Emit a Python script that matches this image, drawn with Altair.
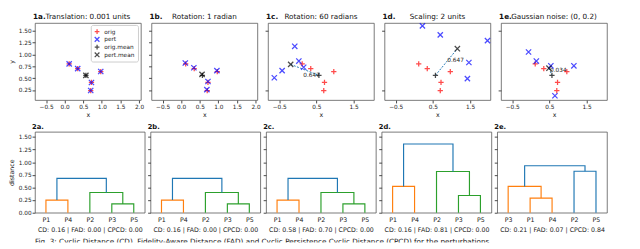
import altair as alt
import pandas as pd

FONT = "DejaVu Sans"

# ---------------- top row data ----------------
panels_top = ["a", "b", "c", "d", "e"]
titles_top = ["Translation: 0.001 units", "Rotation: 1 radian", "Rotation: 60 radians",
              "Scaling: 2 units", "Gaussian noise: (0, 0.2)"]

orig_x = [0.12, 0.35, 0.97, 0.72, 0.70]
orig_y = [0.80, 0.70, 0.64, 0.41, 0.24]

pert_x = {
    "a": [0.12, 0.35, 0.97, 0.72, 0.70],
    "b": [0.11, 0.34, 0.96, 0.72, 0.69],
    "c": [-0.08, 0.03, 0.16, -0.42, -0.63],
    "d": [0.22, 0.70, 1.97, 1.47, 1.43],
    "e": [-0.06, 0.15, 0.54, 1.16, 0.65],
}
pert_y = {
    "a": [0.80, 0.70, 0.64, 0.41, 0.24],
    "b": [0.82, 0.72, 0.66, 0.43, 0.26],
    "c": [1.17, 0.86, 0.73, 0.66, 0.51],
    "d": [1.60, 1.41, 1.29, 0.83, 0.49],
    "e": [1.05, 0.86, 0.76, 0.76, 0.13],
}
orig_mean = (0.57, 0.56)
pert_mean = {
    "a": (0.57, 0.56),
    "b": (0.56, 0.58),
    "c": (-0.19, 0.79),
    "d": (1.16, 1.12),
    "e": (0.49, 0.71),
}
dist_label = {"c": "0.647", "d": "0.647", "e": "0.034"}
dist_label_pos = {"c": (0.15, 0.53), "d": (0.89, 0.83), "e": (0.52, 0.63)}

series = ["orig", "pert", "orig.mean", "pert.mean"]
PLUS = "M-1,0L1,0M0,-1L0,1"
CROSS = "M-1,-1L1,1M-1,1L1,-1"

# ---------------- bottom row data ----------------
leaf_order = {
    "a": ["P1", "P4", "P2", "P3", "P5"],
    "b": ["P1", "P4", "P2", "P3", "P5"],
    "c": ["P1", "P4", "P2", "P3", "P5"],
    "d": ["P1", "P4", "P2", "P3", "P5"],
    "e": ["P3", "P1", "P4", "P2", "P5"],
}
# links: (x_left, y_left, x_right, y_right, height, colour)
ORANGE, GREEN, BLUE = "#ff7f0e", "#2ca02c", "#1f77b4"
links = {
    "a": [(5, 0, 15, 0, 0.25, ORANGE), (35, 0, 45, 0, 0.175, GREEN),
          (25, 0, 40, 0.175, 0.40, GREEN), (10, 0.25, 32.5, 0.40, 0.68, BLUE)],
    "b": [(5, 0, 15, 0, 0.25, ORANGE), (35, 0, 45, 0, 0.175, GREEN),
          (25, 0, 40, 0.175, 0.40, GREEN), (10, 0.25, 32.5, 0.40, 0.68, BLUE)],
    "c": [(5, 0, 15, 0, 0.25, ORANGE), (35, 0, 45, 0, 0.175, GREEN),
          (25, 0, 40, 0.175, 0.40, GREEN), (10, 0.25, 32.5, 0.40, 0.68, BLUE)],
    "d": [(5, 0, 15, 0, 0.52, ORANGE), (35, 0, 45, 0, 0.34, GREEN),
          (25, 0, 40, 0.34, 0.815, GREEN), (10, 0.52, 32.5, 0.815, 1.36, BLUE)],
    "e": [(15, 0, 25, 0, 0.29, ORANGE), (5, 0, 20, 0.29, 0.52, ORANGE),
          (35, 0, 45, 0, 0.82, BLUE), (12.5, 0.52, 40, 0.82, 0.93, BLUE)],
}
captions = {
    "a": "CD: 0.16 | FAD: 0.00 | CPCD: 0.00",
    "b": "CD: 0.16 | FAD: 0.00 | CPCD: 0.00",
    "c": "CD: 0.58 | FAD: 0.70 | CPCD: 0.00",
    "d": "CD: 0.16 | FAD: 0.81 | CPCD: 0.00",
    "e": "CD: 0.21 | FAD: 0.07 | CPCD: 0.84",
}
fig_caption = ("Fig. 3: Cyclic Distance (CD), Fidelity-Aware Distance (FAD) and Cyclic "
               "Persistence Cyclic Distance (CPCD) for the perturbations")

TW, TH = 110, 80
BW, BH = 114, 84

legend = alt.Legend(orient="none", legendX=58, legendY=2, title=None,
                    fillColor="white", strokeColor="#cccccc", padding=3,
                    cornerRadius=2, labelFontSize=6, labelFont=FONT, labelColor="#222",
                    symbolSize=24, symbolStrokeWidth=1.3, rowPadding=0, clipHeight=8,
                    labelOffset=4, symbolType=PLUS)


def top_panel(i, p):
    rows = []
    for x, y in zip(orig_x, orig_y):
        rows.append({"x": x, "y": y, "s": "orig"})
    for x, y in zip(pert_x[p], pert_y[p]):
        rows.append({"x": x, "y": y, "s": "pert"})
    rows.append({"x": orig_mean[0], "y": orig_mean[1], "s": "orig.mean"})
    rows.append({"x": pert_mean[p][0], "y": pert_mean[p][1], "s": "pert.mean"})
    df = pd.DataFrame(rows)

    xs = alt.Scale(domain=[-0.8, 2.05], nice=False, zero=False)
    ys = alt.Scale(domain=[0.04, 1.66], nice=False, zero=False)
    xax = alt.Axis(values=[-0.5, 0, 0.5, 1, 1.5, 2], format=".1f", title="x")
    yax = alt.Axis(values=[0.25, 0.5, 0.75, 1.0, 1.25, 1.5], format=".2f",
                   labels=(i == 0), title=("y" if i == 0 else None), titlePadding=4)

    pts = alt.Chart(df).mark_point(filled=False, strokeWidth=1.3, size=30).encode(
        x=alt.X("x:Q", scale=xs, axis=xax),
        y=alt.Y("y:Q", scale=ys, axis=yax),
        color=alt.Color("s:N", scale=alt.Scale(domain=series,
                        range=["#ff0000", "#0000ff", "#000000", "#000000"]), legend=legend),
        shape=alt.Shape("s:N", scale=alt.Scale(domain=series,
                        range=[PLUS, CROSS, PLUS, CROSS]), legend=legend),
    )
    layers = []
    if p in dist_label:
        ldf = pd.DataFrame({"x": [orig_mean[0], pert_mean[p][0]],
                            "y": [orig_mean[1], pert_mean[p][1]]})
        layers.append(alt.Chart(ldf).mark_line(color="#1f77b4", strokeDash=[2, 1.5],
                                               strokeWidth=1).encode(
            x=alt.X("x:Q", scale=xs), y=alt.Y("y:Q", scale=ys)))
        tdf = pd.DataFrame({"x": [dist_label_pos[p][0]], "y": [dist_label_pos[p][1]],
                            "t": [dist_label[p]]})
        layers.append(alt.Chart(tdf).mark_text(align="left", baseline="alphabetic",
                                               fontSize=6, font=FONT, color="#222").encode(
            x=alt.X("x:Q", scale=xs), y=alt.Y("y:Q", scale=ys), text="t:N"))
    layers.append(pts)

    lab = pd.DataFrame({"t": ["1" + p + "."]})
    layers.append(alt.Chart(lab).mark_text(align="left", baseline="bottom", fontWeight="bold",
                                           fontSize=7.5, font=FONT, color="#111").encode(
        x=alt.value(-2), y=alt.value(-2), text="t:N"))
    tt = pd.DataFrame({"t": [titles_top[i]]})
    if i == 0:
        layers.append(alt.Chart(tt).mark_text(align="left", baseline="bottom",
                                              fontSize=7.5, font=FONT, color="#111").encode(
            x=alt.value(11), y=alt.value(-2), text="t:N"))
    else:
        layers.append(alt.Chart(tt).mark_text(align="center", baseline="bottom",
                                              fontSize=7.5, font=FONT, color="#111").encode(
            x=alt.value(TW / 2), y=alt.value(-2), text="t:N"))
    return alt.layer(*layers).properties(width=TW, height=TH)


def bottom_panel(i, p):
    rows = []
    for k, (xl, yl, xr, yr, h, c) in enumerate(links[p]):
        for o, (x, y) in enumerate([(xl, yl), (xl, h), (xr, h), (xr, yr)]):
            rows.append({"x": x, "y": y, "link": k, "o": o, "c": c})
    df = pd.DataFrame(rows)
    leaves = leaf_order[p]
    expr = " : ".join(f"datum.value == {5 + 10 * j} ? '{leaves[j]}'" for j in range(5)) + " : ''"
    xs = alt.Scale(domain=[0, 50], nice=False, zero=False)
    ys = alt.Scale(domain=[0, 1.6], nice=False)
    lines = alt.Chart(df).mark_line(strokeWidth=1.2, strokeJoin="miter").encode(
        x=alt.X("x:Q", scale=xs, axis=alt.Axis(values=[5, 15, 25, 35, 45], labelExpr=expr,
                                               title=captions[p], ticks=False,
                                               labelFontSize=6.5, labelPadding=4,
                                               titleFontSize=6.5, titlePadding=4)),
        y=alt.Y("y:Q", scale=ys, axis=alt.Axis(values=[0, 0.25, 0.5, 0.75, 1.0, 1.25, 1.5],
                                               format=".2f", labels=(i == 0), titlePadding=4,
                                               title=("distance" if i == 0 else None))),
        detail="link:N",
        order="o:Q",
        color=alt.Color("c:N", scale=None),
    )
    lab = pd.DataFrame({"t": ["2" + p + "."]})
    t = alt.Chart(lab).mark_text(align="left", baseline="bottom", fontWeight="bold",
                                 fontSize=7, font=FONT, color="#111").encode(
        x=alt.value(-3), y=alt.value(-2), text="t:N")
    return alt.layer(lines, t).properties(width=BW, height=BH)


top = alt.hconcat(*[top_panel(i, p) for i, p in enumerate(panels_top)], spacing=11, bounds="flush")
bottom = alt.hconcat(*[bottom_panel(i, p) for i, p in enumerate(panels_top)], spacing=6, bounds="flush")

cap = alt.Chart(pd.DataFrame({"t": [fig_caption]})).mark_text(
    align="left", baseline="top", fontSize=7.5, font=FONT, color="#111", clip=True).encode(
    x=alt.value(0), y=alt.value(0), text="t:N").properties(
    width=620, height=5, view=alt.ViewBackground(strokeOpacity=0))

chart = alt.vconcat(top, bottom, cap, spacing=4, padding=0).configure_axis(
    labelFont=FONT, titleFont=FONT, labelFontSize=6, titleFontSize=6.5,
    titleFontWeight="normal", tickSize=3, tickColor="#444", domain=False, grid=False,
    labelColor="#222", titleColor="#222", labelPadding=1, titlePadding=2,
).configure_view(stroke="#555", strokeWidth=0.8)

chart.save("out.html", embed_options={"renderer": "svg", "actions": False})
